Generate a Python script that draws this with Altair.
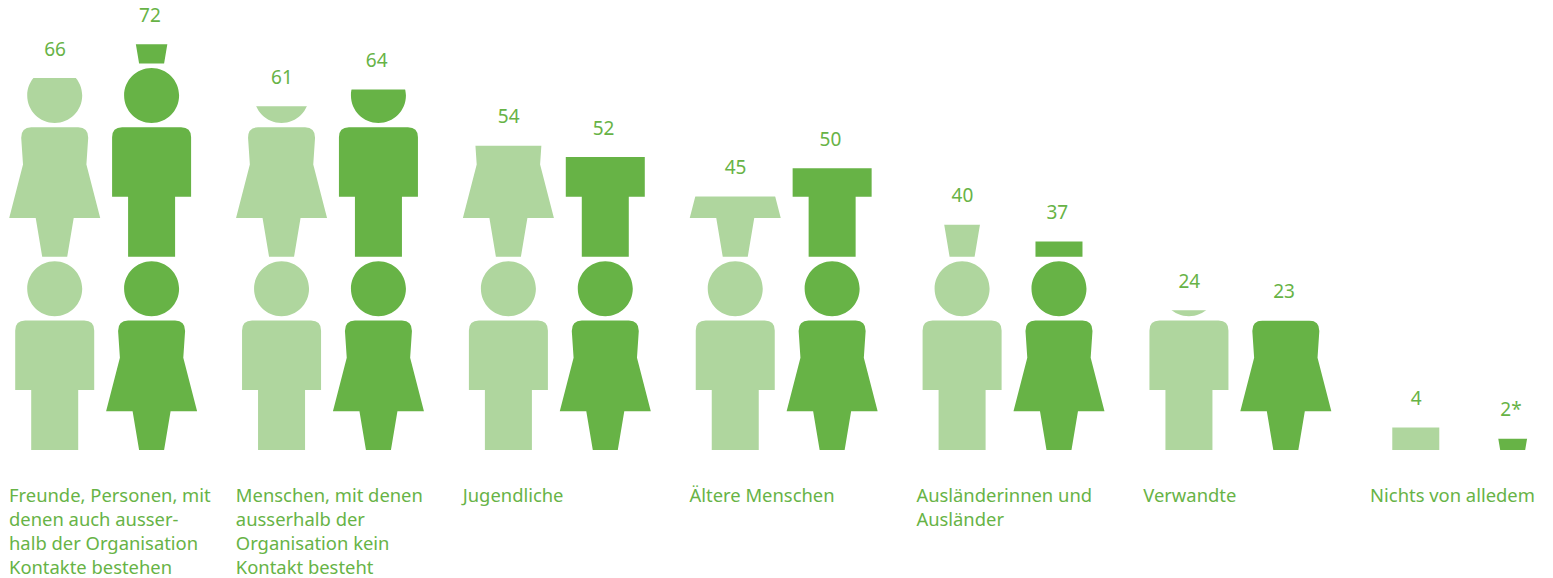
import altair as alt
import pandas as pd

groups = [
    "Freunde, Personen, mit\ndenen auch ausser-\nhalb der Organisation\nKontakte bestehen",
    "Menschen, mit denen\nausserhalb der\nOrganisation kein\nKontakt besteht",
    "Jugendliche",
    "Ältere Menschen",
    "Ausländerinnen und\nAusländer",
    "Verwandte",
    "Nichts von alledem",
]
light_values = [66, 61, 54, 45, 40, 24.8, 4]
dark_values = [72, 64, 52, 50, 37, 23, 2]
light_labels = ["66", "61", "54", "45", "40", "24", "4"]
dark_labels = ["72", "64", "52", "50", "37", "23", "2*"]

LIGHT = "#AFD69E"
DARK = "#67B346"
FONT = "Noto Sans"

MALE = ("M-27.5,-161.3A27.5,27.5 0 1,1 27.5,-161.3A27.5,27.5 0 1,1 -27.5,-161.3Z"
        "M-29.5,-129.5L29.5,-129.5Q39.5,-129.5 39.5,-119.5L39.5,-60L23.5,-60L23.5,0"
        "L-23.5,0L-23.5,-60L-39.5,-60L-39.5,-119.5Q-39.5,-129.5 -29.5,-129.5Z")
FEMALE = ("M-27.5,-161.3A27.5,27.5 0 1,1 27.5,-161.3A27.5,27.5 0 1,1 -27.5,-161.3Z"
          "M-23.5,-129.5L23.5,-129.5Q33.5,-129.5 33.5,-119L31.7,-92.3L45.5,-38.7L19,-38.7"
          "L12.5,0L-12.5,0L-19,-38.7L-45.5,-38.7L-31.7,-92.3L-33.5,-119Q-33.5,-129.5 -23.5,-129.5Z")

Y_MAX = 78.44
Y_MIN = -22.7
FIGURE_SPAN = 34.3
OFFSETS = {"light": 0.2059, "dark": 0.633}
LABEL_SHIFT = {"light": 0.0015, "dark": -0.0075}

rows, figures, captions = [], [], []
for i, g in enumerate(groups):
    captions.append({"pos": i + 0.0044, "caption": g})
    for series, vals, labs, cycle in (
        ("light", light_values, light_labels, ("male", "female", "male")),
        ("dark", dark_values, dark_labels, ("female", "male", "female")),
    ):
        pos = i + OFFSETS[series]
        rows.append({"pos": pos, "label_pos": pos + LABEL_SHIFT[series],
                     "value": vals[i], "label": labs[i], "top": Y_MAX})
        for tier, gender in enumerate(cycle):
            figures.append({"pos": pos, "base": tier * FIGURE_SPAN, "gender": gender, "series": series})

rows = pd.DataFrame(rows)
figures = pd.DataFrame(figures)
captions = pd.DataFrame(captions)

x_scale = alt.Scale(domain=[0, 6.7755], nice=False, zero=False, padding=0)
x_enc = alt.X("pos:Q", axis=None, scale=x_scale)
y_scale = alt.Scale(domain=[Y_MIN, Y_MAX], nice=False, zero=False)

people = alt.Chart(figures).mark_point(filled=True, opacity=1, size=4, clip=False).encode(
    x=x_enc,
    y=alt.Y("base:Q", axis=None, scale=y_scale),
    shape=alt.Shape("gender:N", legend=None,
                    scale=alt.Scale(domain=["female", "male"], range=[FEMALE, MALE])),
    color=alt.Color("series:N", legend=None,
                    scale=alt.Scale(domain=["light", "dark"], range=[LIGHT, DARK])),
)

mask = alt.Chart(rows).mark_bar(size=96, color="white", opacity=1).encode(
    x=x_enc,
    y=alt.Y("value:Q", axis=None, scale=y_scale),
    y2="top:Q",
)

value_text = alt.Chart(rows).mark_text(
    font=FONT, fontSize=19, color=DARK, dy=-28.5, baseline="middle", align="center"
).encode(
    x=alt.X("label_pos:Q", axis=None, scale=x_scale),
    y=alt.Y("value:Q", axis=None, scale=y_scale),
    text="label:N",
)

caption_text = alt.Chart(captions).mark_text(
    font=FONT, fontSize=18.4, color=DARK, align="left", baseline="alphabetic",
    lineBreak="\n", lineHeight=24,
).encode(
    x=x_enc,
    y=alt.value(494.3),
    text="caption:N",
)

chart = alt.layer(people, mask, value_text, caption_text).properties(
    width=1537, height=570, padding=0, background="white",
    autosize=alt.AutoSizeParams(type="none"),
).configure_view(stroke=None)

chart.save("out.html", embed_options={"renderer": "svg", "actions": False})
